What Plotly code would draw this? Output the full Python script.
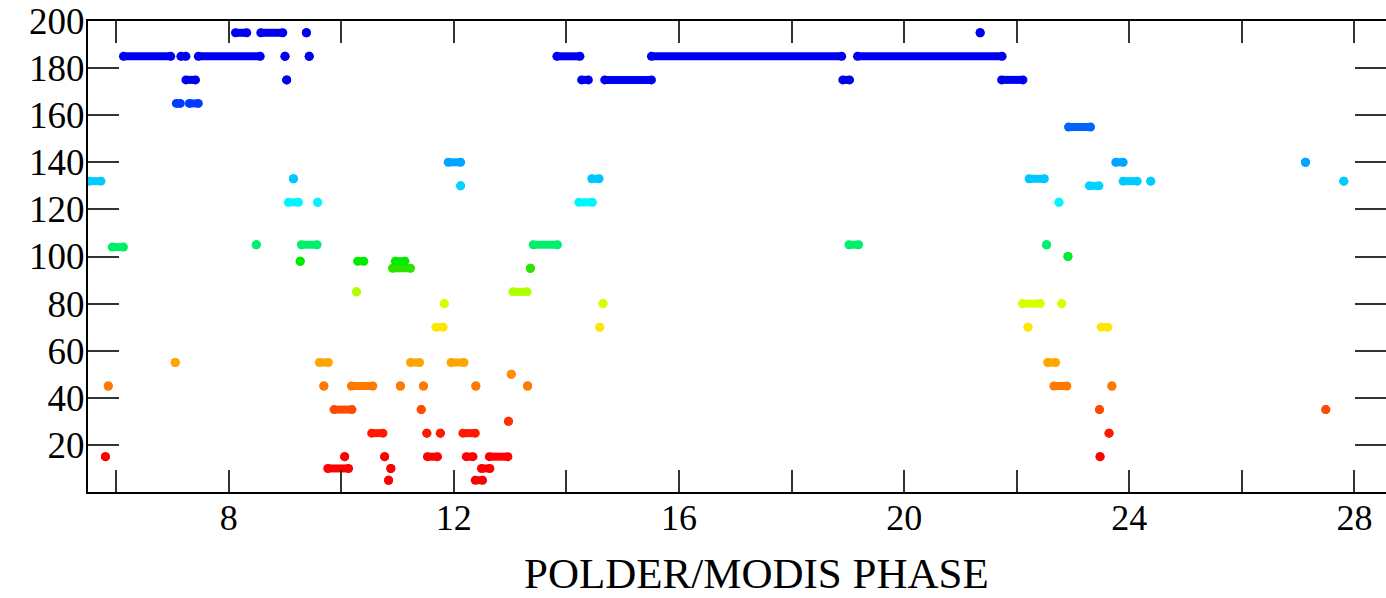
import plotly.graph_objects as go
from plotly.colors import sample_colorscale

# ---- data: horizontal runs of points (level, phase start, phase end) ----
seg_y = [195, 195, 195, 195,
         185, 185, 185, 185, 185, 185, 185, 185,
         175, 175, 175, 175, 175, 175,
         165, 165,
         155,
         140, 140, 140,
         133, 133, 133,
         132, 132, 132, 132,
         130, 130,
         123, 123, 123, 123,
         105, 105, 105, 105, 105,
         104,
         100,
         98, 98, 98,
         95, 95,
         85, 85,
         80, 80, 80, 80,
         70, 70, 70, 70,
         55, 55, 55, 55, 55,
         50,
         45, 45, 45, 45, 45, 45, 45, 45, 45,
         35, 35, 35, 35,
         30,
         25, 25, 25, 25, 25,
         15, 15, 15, 15, 15, 15, 15,
         10, 10, 10,
         5, 5]
seg_x0 = [8.12, 8.57, 9.38, 21.35,
          6.13, 7.15, 7.46, 9.00, 9.43, 13.83, 15.51, 19.17,
          7.24, 9.03, 14.27, 14.68, 18.91, 21.73,
          7.07, 7.30,
          22.92,
          11.90, 23.76, 27.13,
          9.15, 14.45, 22.22,
          5.52, 23.89, 24.38, 27.81,
          12.12, 23.29,
          9.06, 9.58, 14.22, 22.75,
          8.49, 9.29, 13.41, 19.02, 22.53,
          5.93,
          22.91,
          9.27, 10.29, 10.96,
          10.91, 13.36,
          10.27, 13.05,
          11.83, 14.65, 22.10, 22.80,
          11.68, 14.59, 22.20, 23.50,
          7.05, 9.61, 11.23, 11.95, 22.55,
          13.02,
          5.86, 9.69, 10.18, 11.05, 11.46, 12.39, 13.31, 22.66, 23.69,
          9.87, 11.42, 23.47, 27.49,
          12.97,
          10.54, 11.52, 11.76, 12.16, 23.64,
          5.81, 10.06, 10.77, 11.53, 12.22, 12.63, 23.48,
          9.76, 10.88, 12.49,
          10.84, 12.38]
seg_x1 = [8.32, 8.96, 9.38, 21.35,
          6.97, 7.24, 8.56, 9.00, 9.43, 14.24, 18.89, 21.74,
          7.41, 9.03, 14.39, 15.51, 19.03, 22.11,
          7.14, 7.46,
          23.31,
          12.12, 23.89, 27.13,
          9.15, 14.58, 22.49,
          5.73, 24.14, 24.38, 27.81,
          12.12, 23.46,
          9.24, 9.58, 14.46, 22.75,
          8.49, 9.57, 13.84, 19.19, 22.53,
          6.13,
          22.91,
          9.27, 10.40, 11.13,
          11.23, 13.36,
          10.27, 13.30,
          11.83, 14.65, 22.42, 22.80,
          11.81, 14.59, 22.20, 23.62,
          7.05, 9.77, 11.39, 12.18, 22.69,
          13.02,
          5.86, 9.69, 10.56, 11.05, 11.46, 12.39, 13.31, 22.89, 23.69,
          10.19, 11.42, 23.47, 27.49,
          12.97,
          10.74, 11.52, 11.76, 12.38, 23.64,
          5.81, 10.06, 10.77, 11.71, 12.34, 12.96, 23.48,
          10.13, 10.88, 12.64,
          10.84, 12.51]

x_tick_vals = [8, 12, 16, 20, 24, 28]
y_tick_vals = [20, 40, 60, 80, 100, 120, 140, 160, 180, 200]
x_title = "POLDER/MODIS PHASE"

# rainbow colour scale over the 0-200 range
rainbow = [
    [0.000, "rgb(255,0,0)"],
    [0.100, "rgb(255,0,0)"],
    [0.125, "rgb(255,25,0)"],
    [0.175, "rgb(255,75,0)"],
    [0.225, "rgb(255,120,0)"],
    [0.275, "rgb(255,165,0)"],
    [0.350, "rgb(255,230,0)"],
    [0.400, "rgb(215,255,0)"],
    [0.425, "rgb(175,255,0)"],
    [0.475, "rgb(45,228,0)"],
    [0.490, "rgb(0,235,0)"],
    [0.500, "rgb(0,235,50)"],
    [0.525, "rgb(0,240,110)"],
    [0.615, "rgb(0,245,255)"],
    [0.650, "rgb(0,212,255)"],
    [0.700, "rgb(0,165,255)"],
    [0.775, "rgb(0,100,255)"],
    [0.825, "rgb(0,60,255)"],
    [0.875, "rgb(0,0,240)"],
    [1.000, "rgb(0,0,240)"],
]
Y_MIN, Y_MAX = 0, 200

fig = go.Figure()
levels = sorted(set(seg_y))
for lev in levels:
    xs, ys = [], []
    for yv, a, b in zip(seg_y, seg_x0, seg_x1):
        if yv == lev:
            xs += [a, b, None]
            ys += [yv, yv, None]
    col = sample_colorscale(rainbow, [(lev - Y_MIN) / (Y_MAX - Y_MIN)])[0]
    fig.add_trace(go.Scatter(
        x=xs, y=ys, mode="lines+markers",
        line=dict(color=col, width=8),
        marker=dict(color=col, size=9, line=dict(width=0)),
        connectgaps=False, showlegend=False, hoverinfo="skip",
    ))

# empty trace so that the right-hand tick axis is drawn
fig.add_trace(go.Scatter(x=[None], y=[None], yaxis="y2", mode="markers",
                         showlegend=False, hoverinfo="skip"))

font_family = "Liberation Serif, Times New Roman, serif"
tick_col = "#333"

fig.update_xaxes(
    range=[5.5, 28.56], showgrid=False, zeroline=False,
    tickmode="array", tickvals=x_tick_vals, ticktext=[str(v) for v in x_tick_vals],
    ticks="inside", ticklen=22, tickwidth=2, tickcolor=tick_col,
    minor=dict(ticks="inside", dtick=2, tick0=0, ticklen=12, tickwidth=2, tickcolor=tick_col),
    showline=True, linecolor="black", linewidth=2, mirror="allticks",
    tickfont=dict(family=font_family, size=36, color="black"),
    ticklabelstandoff=-7,
)
fig.update_layout(
    yaxis=dict(
        range=[Y_MIN, Y_MAX], showgrid=False, zeroline=False,
        tickmode="array", tickvals=y_tick_vals, ticktext=[str(v) for v in y_tick_vals],
        ticks="inside", ticklen=31, tickwidth=2, tickcolor=tick_col,
        showline=True, linecolor="black", linewidth=2, mirror=False,
        tickfont=dict(family=font_family, size=37, color="black"),
        ticklabelstandoff=-6,
    ),
    yaxis2=dict(
        range=[Y_MIN, Y_MAX], overlaying="y", side="right", anchor="x",
        showgrid=False, zeroline=False, showline=False,
        tickmode="array", tickvals=y_tick_vals, showticklabels=False,
        ticks="inside", ticklen=31, tickwidth=2, tickcolor=tick_col,
    ),
)

fig.add_annotation(
    text=x_title, xref="paper", yref="paper", x=0.5154, y=-0.172,
    xanchor="center", yanchor="middle", showarrow=False,
    font=dict(family=font_family, size=43, color="black"),
)

fig.update_layout(
    width=1386, height=598,
    margin=dict(l=88, r=0, t=21, b=106),
    paper_bgcolor="white", plot_bgcolor="white",
)

fig.write_html("out.html")
